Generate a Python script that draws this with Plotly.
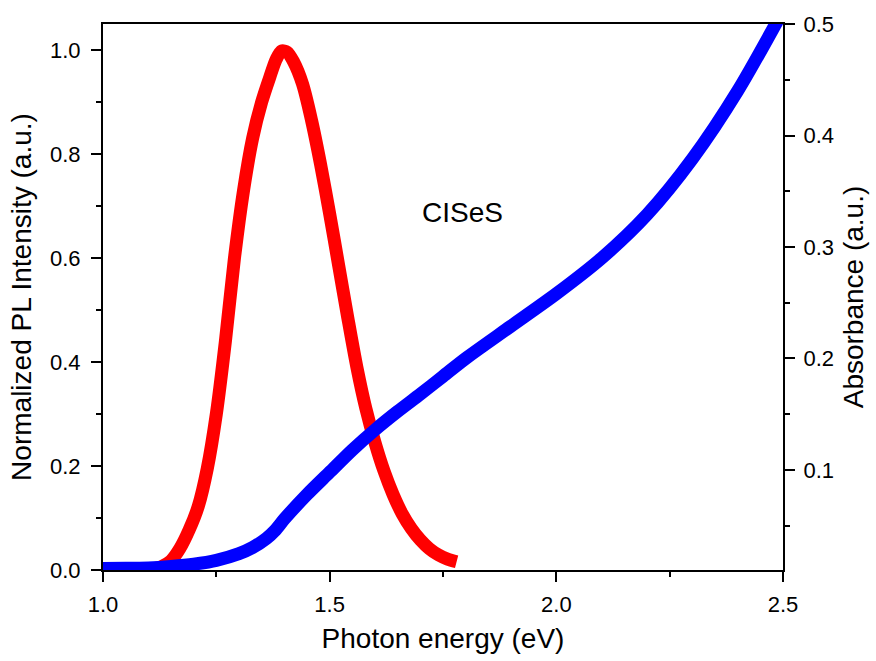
import plotly.graph_objects as go

# PL spectrum (red, left axis)
pl_energy = [1.110, 1.130, 1.150, 1.170, 1.190, 1.210, 1.230, 1.250, 1.270, 1.290,
             1.310, 1.330, 1.350, 1.368, 1.382, 1.394, 1.406, 1.420, 1.440, 1.460,
             1.480, 1.500, 1.520, 1.540, 1.560, 1.580, 1.600, 1.620, 1.640, 1.660,
             1.680, 1.700, 1.720, 1.740, 1.760, 1.780]
pl_intensity = [0.002, 0.007, 0.018, 0.042, 0.077, 0.122, 0.195, 0.300, 0.440, 0.600,
                0.730, 0.830, 0.900, 0.948, 0.982, 0.998, 0.996, 0.978, 0.935, 0.865,
                0.780, 0.685, 0.585, 0.485, 0.390, 0.310, 0.245, 0.190, 0.145, 0.108,
                0.080, 0.058, 0.041, 0.029, 0.021, 0.016]

# Absorbance spectrum (blue, right axis)
abs_energy = [1.00, 1.05, 1.10, 1.15, 1.20, 1.25, 1.30, 1.33, 1.36, 1.38, 1.40, 1.45,
              1.50, 1.55, 1.60, 1.65, 1.70, 1.75, 1.80, 1.90, 2.00, 2.10, 2.20, 2.30,
              2.40, 2.50]
absorbance = [0.0117, 0.0118, 0.0122, 0.0135, 0.0155, 0.0190, 0.0250, 0.0305, 0.0385,
              0.0460, 0.0560, 0.0780, 0.0980, 0.1180, 0.1360, 0.1525, 0.1680, 0.1840,
              0.2000, 0.2290, 0.2580, 0.2900, 0.3290, 0.3790, 0.4400, 0.5120]

x_range = [1.0, 2.5]
y_left_range = [0.0, 1.05]
y_right_range = [0.0103, 0.5]

FONT = "Liberation Sans, Arial, sans-serif"

fig = go.Figure()
fig.add_trace(go.Scatter(x=pl_energy, y=pl_intensity, mode="lines",
                         line=dict(color="#ff0000", width=13, shape="spline", smoothing=0.8),
                         yaxis="y", hoverinfo="skip"))
fig.add_trace(go.Scatter(x=abs_energy, y=absorbance, mode="lines",
                         line=dict(color="#0000ff", width=13, shape="spline", smoothing=0.8),
                         yaxis="y2", hoverinfo="skip"))

axis_common = dict(showline=True, linecolor="black", linewidth=2, showgrid=False,
                   zeroline=False, ticks="outside", ticklen=10, tickwidth=2,
                   tickcolor="black", tickformat=".1f",
                   tickfont=dict(family=FONT, size=22, color="black"))

fig.update_layout(
    width=876, height=661,
    margin=dict(l=103, r=91, t=24, b=88),
    paper_bgcolor="white", plot_bgcolor="white",
    showlegend=False,
    font=dict(family=FONT, color="black"),
    xaxis=dict(range=x_range, dtick=0.5, tick0=1.0, mirror=True,
               minor=dict(ticks="outside", ticklen=5, tickwidth=2, tickcolor="black", dtick=0.25),
               title=dict(text="Photon energy (eV)", font=dict(family=FONT, size=28), standoff=12),
               ticklabelstandoff=4,
               **axis_common),
    yaxis=dict(range=y_left_range, dtick=0.2, tick0=0,
               minor=dict(ticks="outside", ticklen=5, tickwidth=2, tickcolor="black", dtick=0.1),
               title=dict(text="Normalized PL Intensity (a.u.)", font=dict(family=FONT, size=28), standoff=10),
               ticklabelstandoff=6,
               **axis_common),
    yaxis2=dict(range=y_right_range, dtick=0.1, tick0=0, overlaying="y", side="right", anchor="x",
                minor=dict(ticks="outside", ticklen=5, tickwidth=2, tickcolor="black", dtick=0.05),
                title=dict(text="Absorbance (a.u.)", font=dict(family=FONT, size=28), standoff=10),
                ticklabelstandoff=4,
                **axis_common),
    annotations=[dict(text="CISeS", x=1.792, y=0.688, xref="x", yref="y", showarrow=False,
                      font=dict(family=FONT, size=28, color="black"))],
)

fig.write_html("out.html")
